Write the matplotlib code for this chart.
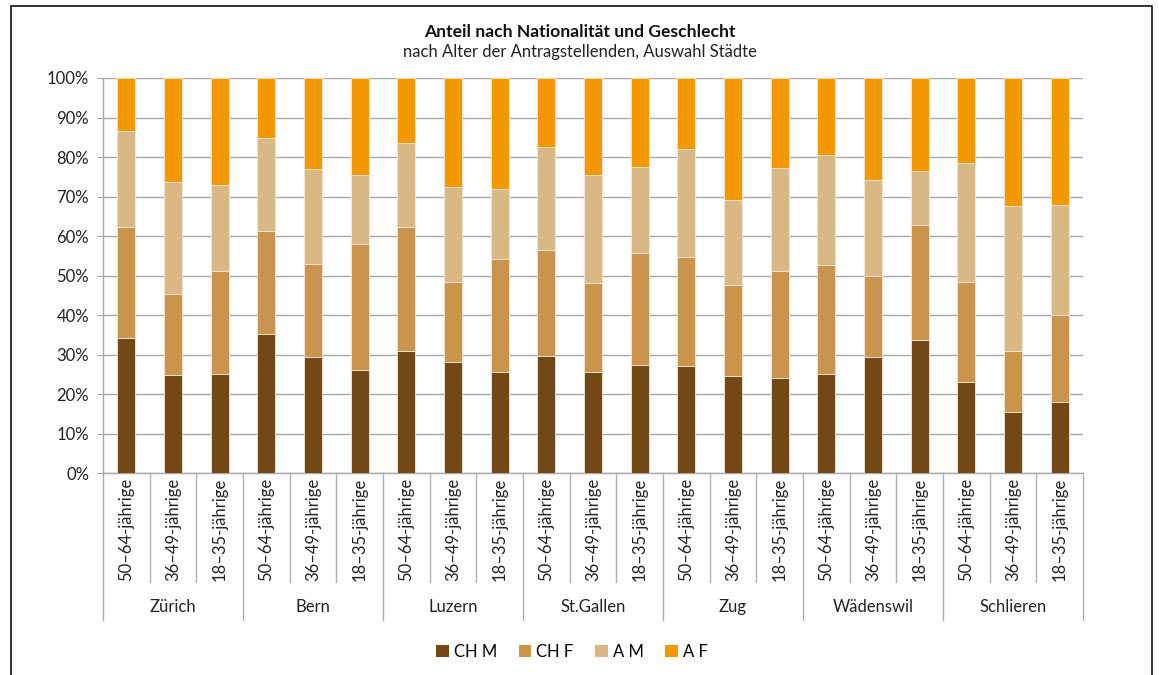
import matplotlib
matplotlib.use("Agg")
import matplotlib.pyplot as plt
from matplotlib.patches import Patch
from matplotlib.lines import Line2D
import numpy as np

plt.rcParams['font.family'] = ['Lato', 'DejaVu Sans']

cities = ["Zürich", "Bern", "Luzern", "St.Gallen", "Zug", "Wädenswil", "Schlieren"]
ages = ["50–64-jährige", "36–49-jährige", "18–35-jährige"]
series_names = ["CH M", "CH F", "A M", "A F"]
colors = ["#734817", "#CA944C", "#D9B886", "#F39800"]

# shares (%), per bar in order city x age
ch_m = [34.3, 24.8, 25.0, 35.2, 29.3, 26.2, 31.0, 28.2, 25.5, 29.8, 25.5, 27.5,
        27.2, 24.7, 24.2, 25.2, 29.5, 33.8, 23.2, 15.4, 18.0]
ch_f = [27.9, 20.6, 26.1, 26.0, 23.6, 31.7, 31.4, 20.3, 28.6, 26.8, 22.6, 28.3,
        27.4, 23.0, 27.1, 27.6, 20.4, 28.9, 25.3, 15.5, 22.1]
a_m = [24.4, 28.3, 21.8, 23.7, 24.1, 17.6, 21.2, 23.9, 17.8, 26.0, 27.3, 21.7,
       27.5, 21.4, 25.9, 27.7, 24.3, 13.8, 30.0, 36.7, 27.8]
a_f = [100 - a - b - c for a, b, c in zip(ch_m, ch_f, a_m)]

W, H = 1159, 675
fig = plt.figure(figsize=(W / 100, H / 100), dpi=100)
ax_left, ax_right, ax_top, ax_bot = 103, 1083, 78, 473.3
ax = fig.add_axes([ax_left / W, 1 - ax_bot / H, (ax_right - ax_left) / W, (ax_bot - ax_top) / H])

n = len(ch_m)
x = np.arange(n)
bottom = np.zeros(n)
for vals, col, name in zip([ch_m, ch_f, a_m, a_f], colors, series_names):
    v = np.array(vals)
    ax.bar(x, v, 0.39, bottom=bottom, color=col, edgecolor="#f4e8d8", linewidth=0.6, label=name, zorder=3)
    bottom += v

fs = 12
ax.set_xlim(-0.5, n - 0.5)
ax.set_ylim(0, 100)
ax.set_yticks(np.arange(0, 101, 10))
ax.set_yticklabels([f"{t}%" for t in range(0, 101, 10)], fontsize=fs, color="#222222")
ax.yaxis.grid(True, color="#a8a8a8", linewidth=1.0, zorder=0)
ax.set_xticks([])
ax.tick_params(axis='y', length=4, color="#a8a8a8", pad=6)
for s in ["top", "right"]:
    ax.spines[s].set_visible(False)
ax.spines["left"].set_color("#a8a8a8")
ax.spines["bottom"].set_color("#a8a8a8")
ax.spines["left"].set_linewidth(1.0)
ax.spines["bottom"].set_linewidth(1.0)

trans = ax.get_xaxis_transform()
labels = [a for c in cities for a in ages]
for i, lab in enumerate(labels):
    ax.text(i, -0.143, lab, rotation=90, ha='center', va='center', fontsize=fs,
            color="#222222", transform=trans, clip_on=False)
for i in range(n + 1):
    xb = i - 0.5
    ylow = -0.371 if i % 3 == 0 else -0.275
    ax.add_line(Line2D([xb, xb], [0, ylow], transform=trans, color="#b0b0b0",
                       linewidth=1.0, clip_on=False))
for j, c in enumerate(cities):
    ax.text(3 * j + 1, -0.338, c, ha='center', va='center', fontsize=fs,
            color="#222222", transform=trans, clip_on=False)

fig.text(580 / W, 1 - 32 / H, "Anteil nach Nationalität und Geschlecht", ha='center', va='center',
         fontsize=12.6, fontweight='bold', color="#111111")
fig.text(580 / W, 1 - 52 / H, "nach Alter der Antragstellenden, Auswahl Städte", ha='center', va='center',
         fontsize=fs, color="#222222")

handles = [Patch(facecolor=c, edgecolor='none') for c in colors]
fig.legend(handles, series_names, loc='center', bbox_to_anchor=(572 / W, 1 - 652 / H), ncol=4,
           frameon=False, fontsize=fs, handlelength=0.75, handleheight=0.75, handletextpad=0.3,
           columnspacing=1.3)

# outer frame (left, top, right; no bottom)
fx = [11 / W, 11 / W, 1152 / W, 1152 / W]
fy = [0, 1 - 6 / H, 1 - 6 / H, 0]
fig.add_artist(Line2D(fx, fy, transform=fig.transFigure, color="#222222", linewidth=1.3))

fig.savefig("out.png", dpi=100)
